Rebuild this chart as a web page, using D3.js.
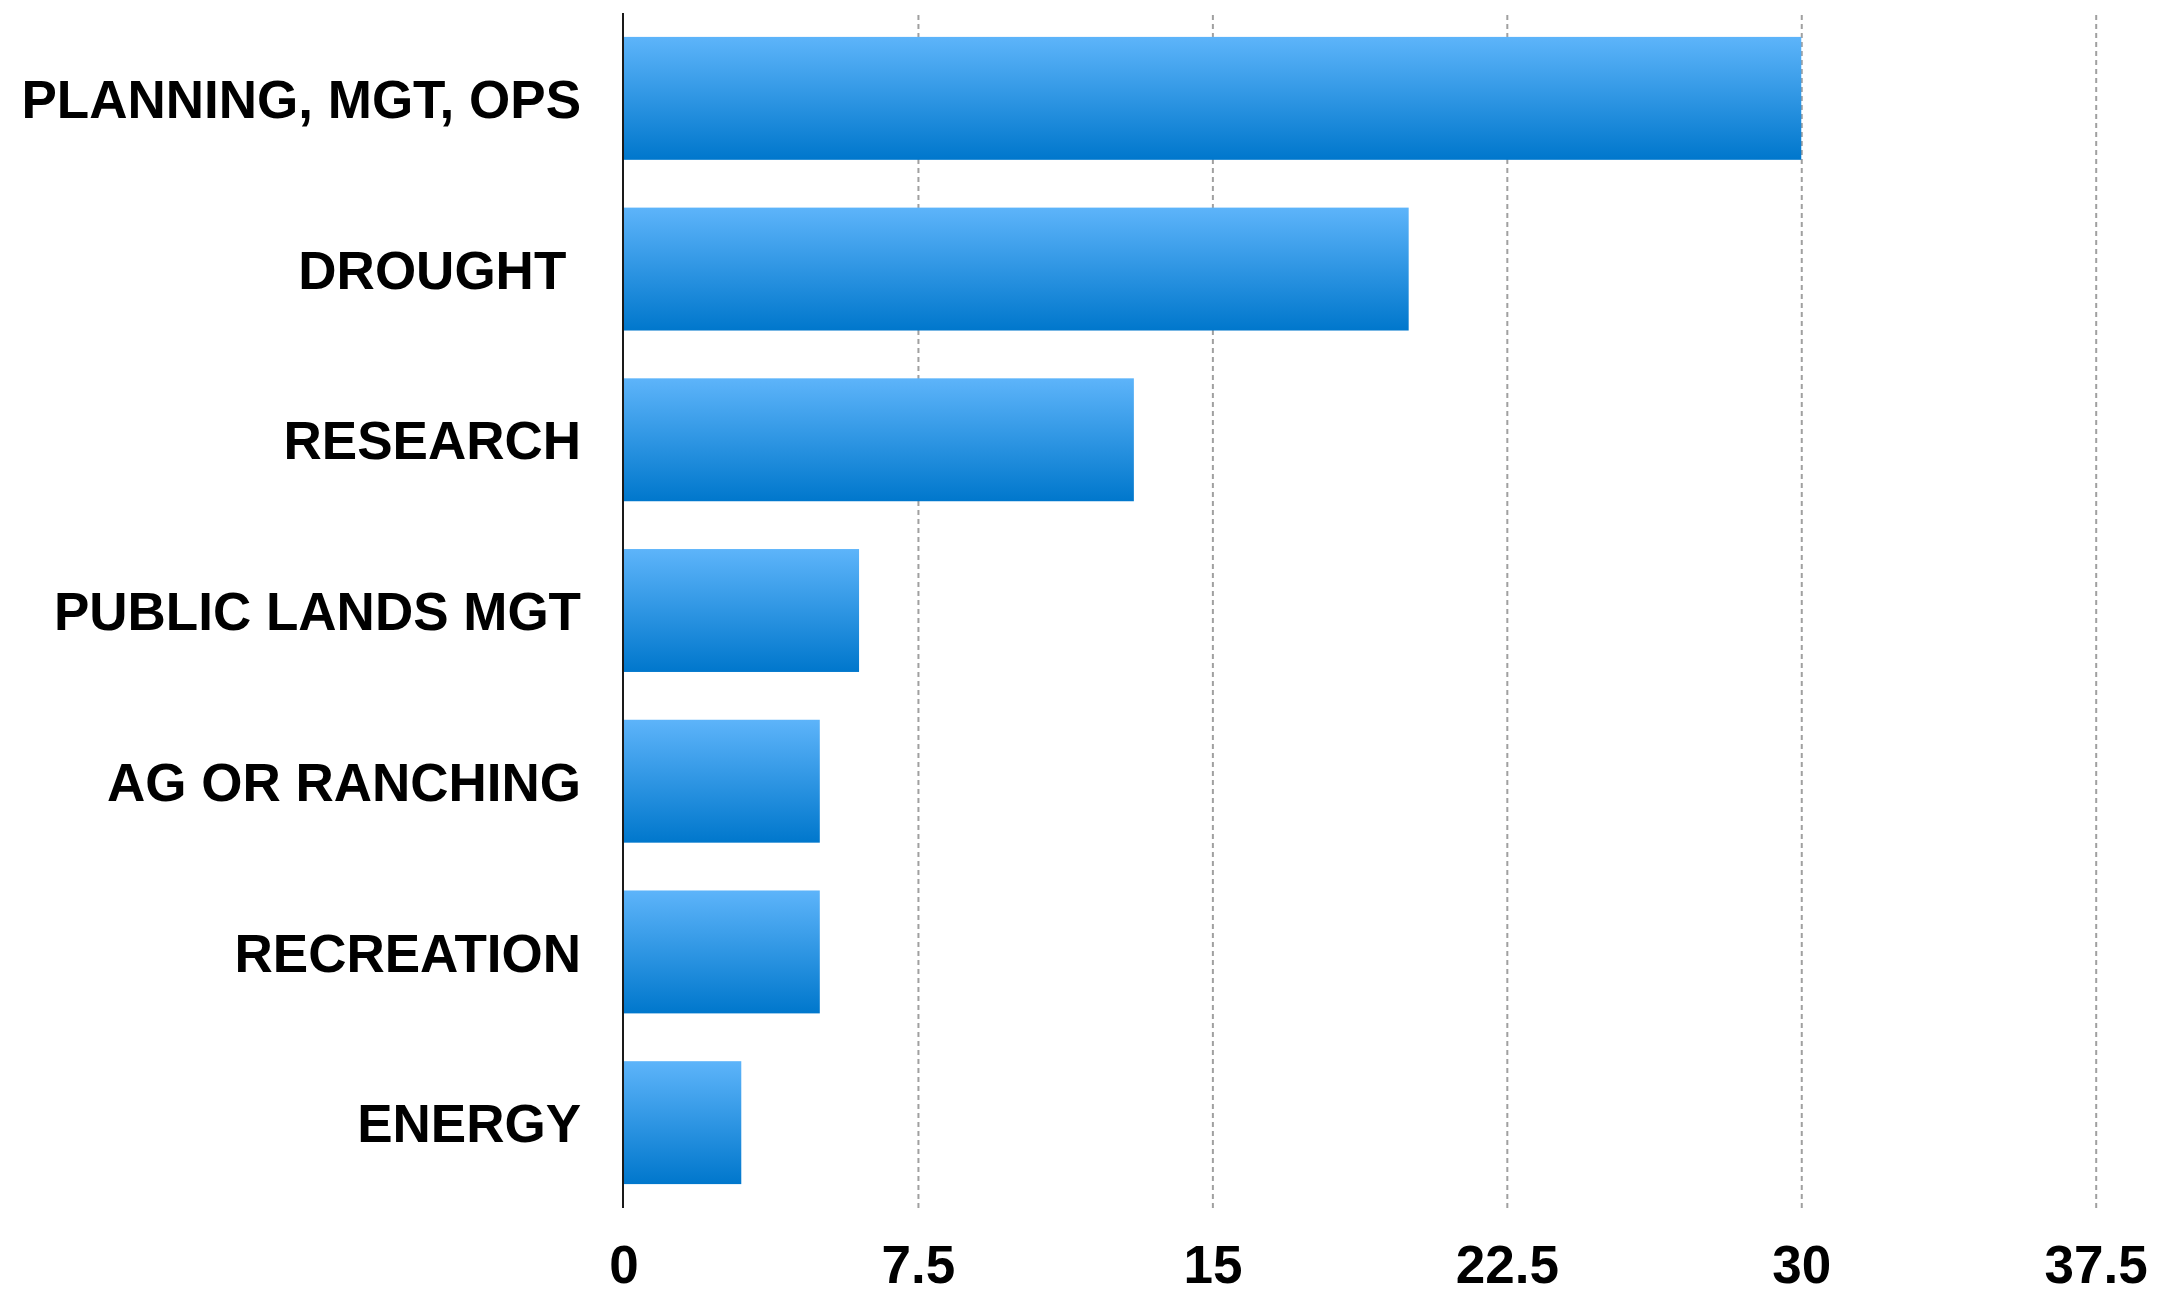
<!DOCTYPE html>
<html>
<head>
<meta charset="utf-8">
<script src="https://cdn.jsdelivr.net/npm/d3@7"></script>
<style>
	body { margin: 0; background: #fff; }
	svg text { font-family: "Liberation Sans", Arial, Helvetica, sans-serif; font-weight: bold; fill: #000; }
</style>
</head>
<body>
<svg id="chart"></svg>
<script>
// data
const categories = ['PLANNING, MGT, OPS', 'DROUGHT ', 'RESEARCH', 'PUBLIC LANDS MGT', 'AG OR RANCHING', 'RECREATION', 'ENERGY']
const values = [30, 20, 13, 6, 5, 5, 3]
const xTicks = [0, 7.5, 15, 22.5, 30, 37.5]

const width = 2168
const height = 1295
const plot = { left: 623.5, right: 2095.7, top: 13, bottom: 1208 }

const svg = d3.select('#chart')
	.attr('width', width)
	.attr('height', height)

// gradient for bars
const grad = svg.append('defs').append('linearGradient')
	.attr('id', 'barGrad')
	.attr('x1', 0).attr('y1', 0).attr('x2', 0).attr('y2', 1)
grad.append('stop').attr('offset', '0%').attr('stop-color', '#5db4fa')
grad.append('stop').attr('offset', '100%').attr('stop-color', '#0077cc')

// scales
const x = d3.scaleLinear()
	.domain([0, 37.5])
	.range([plot.left, plot.right])

const y = d3.scaleBand()
	.domain(categories)
	.range([plot.top, plot.bottom])
	.paddingInner(0.28)
	.paddingOuter(0.14)

// dashed grid lines
svg.append('g')
	.attr('transform', 'translate(0,' + plot.bottom + ')')
	.call(d3.axisBottom(x).tickValues(xTicks.slice(1)).tickSize(-(plot.bottom - plot.top)).tickFormat(''))
	.call(g => g.select('.domain').remove())
	.call(g => g.selectAll('line')
		.attr('stroke', '#a0a0a0')
		.attr('stroke-width', 2)
		.attr('stroke-dasharray', '5,4'))

// bars
svg.append('g')
	.selectAll('rect')
	.data(values)
	.join('rect')
	.attr('x', x(0))
	.attr('y', (d, i) => y(categories[i]))
	.attr('width', d => x(d) - x(0))
	.attr('height', y.bandwidth())
	.attr('fill', 'url(#barGrad)')

// x axis labels (kept just inside the bottom edge)
svg.append('g')
	.attr('transform', 'translate(0,' + plot.bottom + ')')
	.call(d3.axisBottom(x).tickValues(xTicks).tickSize(0).tickFormat(d3.format('')))
	.call(g => g.select('.domain').remove())
	.call(g => g.selectAll('text')
		.attr('y', 75)
		.attr('dy', 0)
		.attr('font-size', '53px'))

// category labels
svg.append('g')
	.selectAll('text')
	.data(categories)
	.join('text')
	.attr('x', 581)
	.attr('y', d => y(d) + y.bandwidth() / 2)
	.attr('dy', '0.37em')
	.attr('text-anchor', 'end')
	.attr('font-size', '53px')
	.style('white-space', 'pre')
	.text(d => d)

// y axis line
svg.append('line')
	.attr('x1', x(0) - 0.5).attr('x2', x(0) - 0.5)
	.attr('y1', plot.top).attr('y2', plot.bottom)
	.attr('stroke', '#1a1a1a')
	.attr('stroke-width', 2)
</script>
</body>
</html>
